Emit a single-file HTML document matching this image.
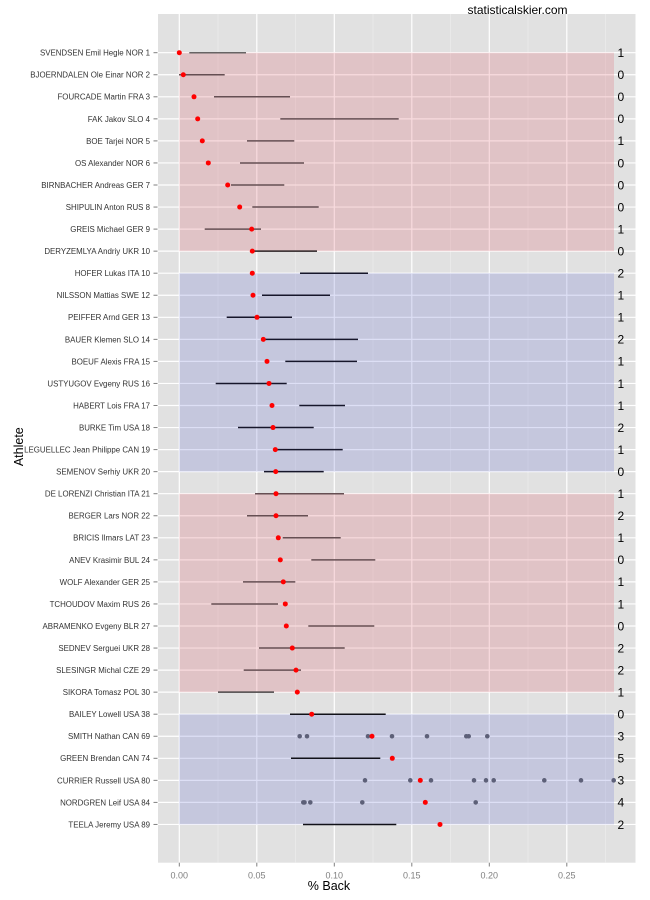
<!DOCTYPE html>
<html>
<head>
<meta charset="utf-8">
<style>
html,body{margin:0;padding:0;background:#fff;}
svg{display:block;font-family:"Liberation Sans",Arial,sans-serif;}
</style>
</head>
<body>
<svg width="650" height="900" viewBox="0 0 650 900" xmlns="http://www.w3.org/2000/svg">
<rect x="0" y="0" width="650" height="900" fill="#fff"/>
<text x="517.5" y="14" font-size="12" text-anchor="middle" fill="#000">statisticalskier.com</text>
<!-- panel -->
<rect x="158" y="14" width="477.5" height="848.7" fill="#E1E1E1"/>
<g id="minor" stroke="#EFEFEF" stroke-width="0.6">
<line x1="218" y1="14" x2="218" y2="862.7"/>
<line x1="295.5" y1="14" x2="295.5" y2="862.7"/>
<line x1="373" y1="14" x2="373" y2="862.7"/>
<line x1="450.5" y1="14" x2="450.5" y2="862.7"/>
<line x1="528" y1="14" x2="528" y2="862.7"/>
<line x1="605.5" y1="14" x2="605.5" y2="862.7"/>
</g>
<g id="major" stroke="#FFFFFF" stroke-width="1.2">
<line x1="179.3" y1="14" x2="179.3" y2="862.7"/>
<line x1="256.8" y1="14" x2="256.8" y2="862.7"/>
<line x1="334.3" y1="14" x2="334.3" y2="862.7"/>
<line x1="411.8" y1="14" x2="411.8" y2="862.7"/>
<line x1="489.3" y1="14" x2="489.3" y2="862.7"/>
<line x1="566.8" y1="14" x2="566.8" y2="862.7"/>
</g>
<g id="hgrid" stroke="#FFFFFF" stroke-width="1.2"></g>
<!-- bands -->
<rect x="179.3" y="52.7" width="434.7" height="198.45" fill="rgb(219,74,89)" fill-opacity="0.2"/>
<rect x="179.3" y="273.2" width="434.7" height="198.45" fill="rgb(84,94,204)" fill-opacity="0.2"/>
<rect x="179.3" y="493.7" width="434.7" height="198.45" fill="rgb(219,74,89)" fill-opacity="0.2"/>
<rect x="179.3" y="714.2" width="434.7" height="110.25" fill="rgb(84,94,204)" fill-opacity="0.2"/>
<g id="data"></g>
<g id="ylab" font-size="7.9" fill="#333" text-anchor="end"></g>
<g id="rlab" font-size="12" fill="#000"></g>
<g id="yticks" stroke="#7F7F7F" stroke-width="1"></g>
<!-- x ticks -->
<g stroke="#7F7F7F" stroke-width="1">
<line x1="179.3" y1="862.7" x2="179.3" y2="866.5"/>
<line x1="256.8" y1="862.7" x2="256.8" y2="866.5"/>
<line x1="334.3" y1="862.7" x2="334.3" y2="866.5"/>
<line x1="411.8" y1="862.7" x2="411.8" y2="866.5"/>
<line x1="489.3" y1="862.7" x2="489.3" y2="866.5"/>
<line x1="566.8" y1="862.7" x2="566.8" y2="866.5"/>
</g>
<g font-size="9" fill="#7F7F7F" text-anchor="middle">
<text x="179.3" y="878.3">0.00</text>
<text x="256.8" y="878.3">0.05</text>
<text x="334.3" y="878.3">0.10</text>
<text x="411.8" y="878.3">0.15</text>
<text x="489.3" y="878.3">0.20</text>
<text x="566.8" y="878.3">0.25</text>
</g>
<text x="329" y="890" font-size="12.5" text-anchor="middle" fill="#000">% Back</text>
<text x="23" y="446.7" font-size="12.5" text-anchor="middle" fill="#000" transform="rotate(-90 23 446.7)">Athlete</text>
</svg>
<script>
(function(){
var NS="http://www.w3.org/2000/svg";
var names=["SVENDSEN Emil Hegle NOR 1","BJOERNDALEN Ole Einar NOR 2","FOURCADE Martin FRA 3","FAK Jakov SLO 4","BOE Tarjei NOR 5","OS Alexander NOR 6","BIRNBACHER Andreas GER 7","SHIPULIN Anton RUS 8","GREIS Michael GER 9","DERYZEMLYA Andriy UKR 10","HOFER Lukas ITA 10","NILSSON Mattias SWE 12","PEIFFER Arnd GER 13","BAUER Klemen SLO 14","BOEUF Alexis FRA 15","USTYUGOV Evgeny RUS 16","HABERT Lois FRA 17","BURKE Tim USA 18","LEGUELLEC Jean Philippe CAN 19","SEMENOV Serhiy UKR 20","DE LORENZI Christian ITA 21","BERGER Lars NOR 22","BRICIS Ilmars LAT 23","ANEV Krasimir BUL 24","WOLF Alexander GER 25","TCHOUDOV Maxim RUS 26","ABRAMENKO Evgeny BLR 27","SEDNEV Serguei UKR 28","SLESINGR Michal CZE 29","SIKORA Tomasz POL 30","BAILEY Lowell USA 38","SMITH Nathan CAN 69","GREEN Brendan CAN 74","CURRIER Russell USA 80","NORDGREN Leif USA 84","TEELA Jeremy USA 89"];
var counts=[1,0,0,0,1,0,0,0,1,0,2,1,1,2,1,1,1,2,1,0,1,2,1,0,1,1,0,2,2,1,0,3,5,3,4,2];
var d=[[179.3,189.3,246],[183.3,179,224.7],[194,214,290],[197.7,280.3,398.7],[202.3,247,294.3],[208.3,240,304],[227.7,231,284.3],[239.7,252.3,318.7],[251.7,204.7,261],[252.3,253.3,317],
[252.3,300,368],[253,262,330],[257,226.7,292],[263.3,263.3,358],[267,285.3,357],[269,215.7,286.7],[272,299.3,345],[273,238,313.7],[275.3,275.3,342.7],[275.7,264,323.7],
[276,255,344],[276,247,308],[278.3,282.7,340.7],[280.3,311.3,375.3],[283.3,243,295.3],[285.3,211.3,278],[286.3,308.3,374.3],[292.3,259,344.7],[296,243.7,301],[297.3,218,274],
[311.7,290,385.7],[372,null,null],[392.3,291,380.3],[420.3,null,null],[425.3,null,null],[440,303,396.3]];
var grays={31:[299.7,307,368,392,427,466.3,468.7,487.3],33:[365,410.3,431,474,486,493.7,544.3,581,613.7],34:[303.3,304.5,310.3,362.3,475.7]};
function el(tag,attrs,parent){var e=document.createElementNS(NS,tag);for(var k in attrs)e.setAttribute(k,attrs[k]);parent.appendChild(e);return e;}
var hg=document.getElementById("hgrid"),dg=document.getElementById("data"),yl=document.getElementById("ylab"),rl=document.getElementById("rlab"),yt=document.getElementById("yticks");
for(var i=0;i<36;i++){
 var y=52.7+i*22.05;
 el("line",{x1:158,y1:y,x2:635.5,y2:y},hg);
 el("line",{x1:153.5,y1:y,x2:157.5,y2:y},yt);
 var t=el("text",{x:150,y:(y+2.9).toFixed(2)},yl);t.textContent=names[i];
 var r=el("text",{x:617.5,y:(y+4.3).toFixed(2)},rl);r.textContent=counts[i];
}
for(var i=0;i<36;i++){
 var y=52.7+i*22.05;
 var col;
 if(i===0)col="#676464";
 else if(i<9)col="#654f53";
 else if(i===9)col="#2a2022";
 else if(i<20)col="#16162a";
 else if(i<29)col="#664f53";
 else if(i===29)col="#4a4446";
 else col="#111118";
 if(d[i][1]!==null){el("line",{x1:d[i][1],y1:y,x2:d[i][2],y2:y,stroke:col,"stroke-width":1.5},dg);}
 if(grays[i]){grays[i].forEach(function(x){el("circle",{cx:x,cy:y,r:2.3,fill:"#5d6078"},dg);});}
}
for(var i=0;i<36;i++){
 var y=52.7+i*22.05;
 el("circle",{cx:d[i][0],cy:y,r:2.5,fill:"#FF0000"},dg);
}
})();
</script>
</body>
</html>
